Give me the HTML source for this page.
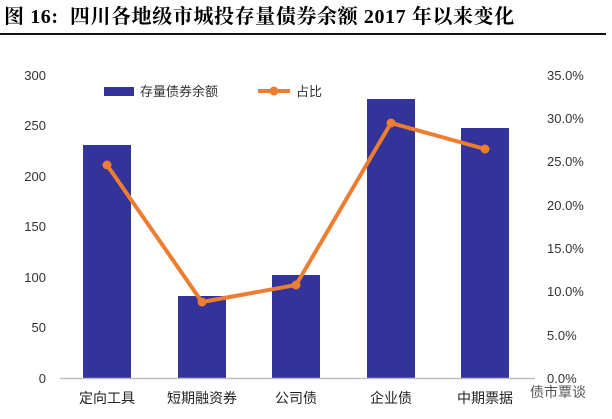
<!DOCTYPE html><html><head><meta charset="utf-8"><style>body{margin:0;background:#fff;width:612px;height:414px;overflow:hidden}</style></head><body>
<svg width="612" height="414" xmlns="http://www.w3.org/2000/svg" font-family="'Liberation Sans','Noto Sans CJK SC',sans-serif">
<text x="4" y="23" font-size="20" font-weight="bold" letter-spacing="0.6" style="white-space:pre" font-family="'Liberation Serif','Noto Serif CJK SC',serif">图 16:  四川各地级市城投存量债券余额 2017 年以来变化</text>
<rect x="0" y="33" width="606" height="2" fill="#111"/>
<g font-size="13" fill="#333" text-anchor="end">
<text x="46" y="383">0</text><text x="46" y="332">50</text><text x="46" y="282">100</text><text x="46" y="231">150</text><text x="46" y="181">200</text><text x="46" y="130">250</text><text x="46" y="80">300</text></g>
<g font-size="13" fill="#333" text-anchor="start">
<text x="547" y="383">0.0%</text><text x="547" y="340">5.0%</text><text x="547" y="296">10.0%</text><text x="547" y="253">15.0%</text><text x="547" y="210">20.0%</text><text x="547" y="166">25.0%</text><text x="547" y="123">30.0%</text><text x="547" y="80">35.0%</text></g>
<g fill="#333399">
<rect x="83" y="145" width="48" height="233"/><rect x="178" y="296" width="48" height="82"/><rect x="272" y="275" width="48" height="103"/><rect x="367" y="99" width="48" height="279"/><rect x="461" y="128" width="48" height="250"/></g>
<line x1="60" y1="378.5" x2="535" y2="378.5" stroke="#bfbfbf" stroke-width="1.5"/>
<polyline points="107,165 202,302 296,285 391,123 485,149" fill="none" stroke="#ed7d31" stroke-width="4"/>
<g fill="#ed7d31"><circle cx="107" cy="165" r="4.5"/><circle cx="202" cy="302" r="4.5"/><circle cx="296" cy="285" r="4.5"/><circle cx="391" cy="123" r="4.5"/><circle cx="485" cy="149" r="4.5"/></g>
<rect x="104" y="87" width="30" height="9" fill="#333399"/>
<text x="140" y="96" font-size="13" fill="#333">存量债券余额</text>
<line x1="258" y1="91" x2="290" y2="91" stroke="#ed7d31" stroke-width="4"/><circle cx="274" cy="91" r="4.5" fill="#ed7d31"/>
<text x="296" y="96" font-size="13" fill="#333">占比</text>
<g font-size="14" fill="#222" text-anchor="middle">
<text x="107" y="403">定向工具</text><text x="202" y="403">短期融资券</text><text x="296" y="403">公司债</text><text x="391" y="403">企业债</text><text x="485" y="403">中期票据</text></g>
<text x="530" y="397" font-size="14" fill="#555">债市覃谈</text>
</svg></body></html>
